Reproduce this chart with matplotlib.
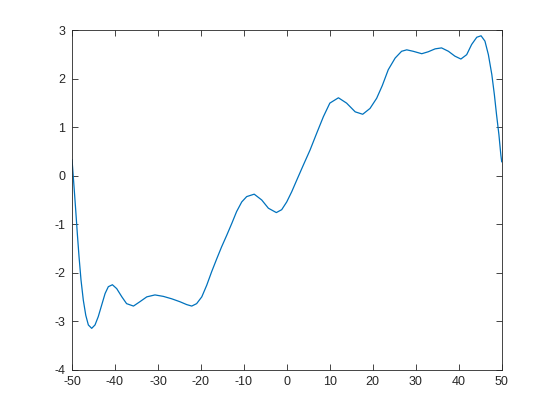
import matplotlib
matplotlib.use('Agg')
import matplotlib.pyplot as plt

# points
x_vals = [-50, -49.53, -49.14, -48.77, -48.37, -47.91, -47.37, -46.8, -46.2, -45.42,
          -44.65, -43.9, -43.1, -42.3, -41.55, -40.6, -39.6, -38.4, -37.3, -35.7,
          -34.2, -32.6, -30.7, -28.75, -26.8, -24.9, -23.3, -22.14, -21.0, -19.8,
          -18.65, -17.5, -16.3, -15.2, -14.0, -12.8, -11.7, -10.5, -9.35, -7.6,
          -5.85, -4.3, -2.45, -1.2, -0.03, 1.13, 2.3, 3.83, 5.39, 6.95,
          8.5, 10.0, 12.0, 13.9, 15.9, 17.65, 19.35, 20.9, 22.2, 23.6,
          25.2, 26.7, 27.9, 29.4, 31.4, 32.9, 34.5, 36.0, 37.6, 39.1,
          40.5, 41.85, 43.0, 44.2, 45.2, 46.1, 46.9, 47.7, 48.3, 48.8,
          49.35, 49.8, 50]
y_vals = [0.33, -0.23, -0.71, -1.19, -1.67, -2.15, -2.57, -2.88, -3.08, -3.15,
          -3.08, -2.91, -2.67, -2.43, -2.29, -2.25, -2.33, -2.50, -2.64, -2.69,
          -2.60, -2.50, -2.46, -2.49, -2.54, -2.60, -2.66, -2.69, -2.64, -2.50,
          -2.26, -1.98, -1.71, -1.47, -1.23, -0.98, -0.74, -0.54, -0.43, -0.38,
          -0.50, -0.67, -0.76, -0.70, -0.54, -0.33, -0.09, 0.22, 0.53, 0.88,
          1.22, 1.50, 1.61, 1.50, 1.32, 1.27, 1.39, 1.60, 1.86, 2.19,
          2.43, 2.57, 2.60, 2.57, 2.52, 2.56, 2.62, 2.64, 2.57, 2.47,
          2.41, 2.50, 2.71, 2.86, 2.89, 2.78, 2.50, 2.09, 1.67, 1.26,
          0.85, 0.43, 0.29]

x_ticks = [-50, -40, -30, -20, -10, 0, 10, 20, 30, 40, 50]
y_ticks = [-4, -3, -2, -1, 0, 1, 2, 3]

plt.rcParams['font.family'] = ['Liberation Sans', 'DejaVu Sans']

fig = plt.figure(figsize=(5.54, 4.15), dpi=100)
ax = fig.add_axes([0.130, 0.1096, 0.7756, 0.817])
ax.plot(x_vals, y_vals, color='#0072BD', lw=0.9)
ax.set_xlim(-50, 50)
ax.set_ylim(-4, 3)
ax.set_xticks(x_ticks)
ax.set_yticks(y_ticks)
ax.set_xticklabels([str(t) for t in x_ticks])
ax.set_yticklabels([str(t) for t in y_ticks])
ax.tick_params(direction='in', top=True, right=True, length=4, width=0.6,
               colors='#262626', labelsize=9, pad=5)
for s in ax.spines.values():
    s.set_color('#262626')
    s.set_linewidth(0.6)

fig.savefig('out.png', dpi=100)
